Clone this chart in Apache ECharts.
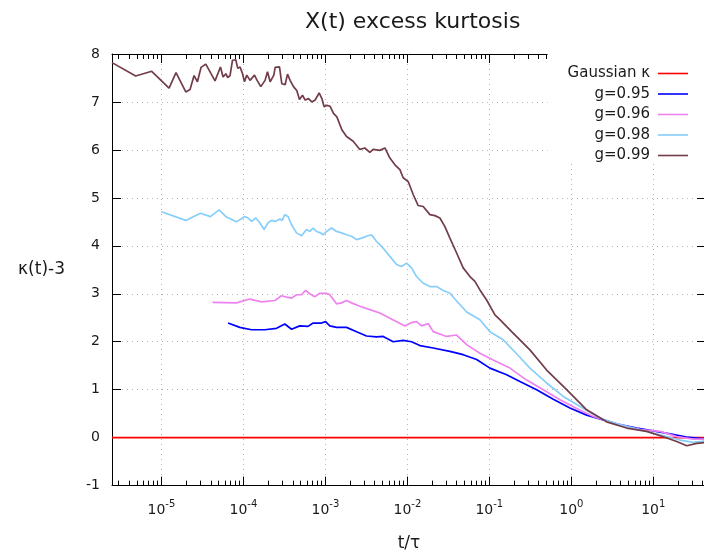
<!DOCTYPE html>
<html><head><meta charset="utf-8">
<script src="https://cdn.jsdelivr.net/npm/echarts@6/dist/echarts.min.js"></script>
<style>html,body{margin:0;padding:0;background:#fff}#c{width:704px;height:558px}</style>
</head><body><div id="c"></div><script>
// x values are log10(t/tau), y values are kappa(t)-3
const xRangeLog = [-5.603, 1.643];
const yRange = [-1, 8];
const seriesNames = ['Gaussian κ', 'g=0.95', 'g=0.96', 'g=0.98', 'g=0.99'];

const gauss_logt = [-5.603, 1.643];
const gauss_kappa = [0, 0];

const g95_logt = [-4.187,-4.044,-3.901,-3.739,-3.596,-3.495,-3.413,-3.312,-3.211,-3.150,-3.047,-2.998,-2.946,-2.864,-2.742,-2.620,-2.498,-2.376,-2.295,-2.173,-2.051,-1.949,-1.847,-1.685,-1.481,-1.319,-1.155,-0.993,-0.789,-0.627,-0.423,-0.220,-0.017,0.187,0.390,0.594,0.798,1.000,1.203,1.408,1.643];
const g95_kappa = [2.39,2.30,2.25,2.25,2.28,2.37,2.26,2.33,2.32,2.39,2.39,2.42,2.33,2.30,2.30,2.21,2.12,2.10,2.11,2.00,2.03,2.00,1.92,1.87,1.80,1.73,1.63,1.45,1.31,1.17,1.00,0.80,0.62,0.47,0.37,0.27,0.20,0.14,0.08,0.01,-0.03];

const g96_logt = [-4.378,-4.085,-3.922,-3.779,-3.617,-3.535,-3.474,-3.413,-3.352,-3.291,-3.242,-3.190,-3.129,-3.068,-2.986,-2.946,-2.864,-2.803,-2.742,-2.681,-2.580,-2.458,-2.336,-2.213,-2.112,-2.030,-1.949,-1.888,-1.827,-1.746,-1.685,-1.521,-1.399,-1.277,-1.115,-0.953,-0.749,-0.545,-0.342,-0.138,0.065,0.268,0.472,0.676,0.878,1.082,1.286,1.488,1.643];
const g96_kappa = [2.82,2.81,2.89,2.83,2.86,2.96,2.93,2.91,2.98,2.98,3.07,3.00,2.94,3.01,3.01,2.98,2.79,2.81,2.86,2.81,2.74,2.67,2.60,2.49,2.40,2.33,2.40,2.42,2.33,2.38,2.21,2.11,2.14,1.94,1.76,1.62,1.45,1.20,1.00,0.79,0.61,0.44,0.33,0.23,0.16,0.13,0.02,-0.03,-0.03];

const g98_logt = [-5.000,-4.703,-4.524,-4.402,-4.297,-4.207,-4.085,-3.983,-3.943,-3.901,-3.849,-3.800,-3.748,-3.699,-3.657,-3.605,-3.556,-3.528,-3.495,-3.455,-3.413,-3.352,-3.291,-3.230,-3.190,-3.150,-3.108,-3.059,-3.028,-2.986,-2.925,-2.864,-2.803,-2.742,-2.681,-2.620,-2.559,-2.498,-2.437,-2.376,-2.295,-2.213,-2.132,-2.071,-2.010,-1.949,-1.888,-1.807,-1.725,-1.643,-1.563,-1.481,-1.420,-1.277,-1.115,-0.993,-0.831,-0.667,-0.505,-0.301,-0.098,0.106,0.350,0.594,0.838,1.082,1.326,1.488,1.643];
const g98_kappa = [4.71,4.53,4.68,4.61,4.75,4.60,4.50,4.61,4.58,4.51,4.58,4.48,4.34,4.48,4.53,4.51,4.56,4.53,4.65,4.61,4.44,4.27,4.21,4.34,4.30,4.37,4.30,4.27,4.23,4.30,4.37,4.30,4.27,4.23,4.20,4.13,4.16,4.20,4.23,4.09,3.95,3.78,3.61,3.57,3.64,3.54,3.36,3.22,3.15,3.15,3.07,3.01,2.89,2.62,2.46,2.21,2.04,1.75,1.45,1.14,0.86,0.65,0.41,0.27,0.16,0.06,-0.05,-0.10,-0.07];

const g99_logt = [-5.603,-5.314,-5.119,-4.907,-4.822,-4.703,-4.651,-4.602,-4.561,-4.517,-4.459,-4.346,-4.280,-4.248,-4.215,-4.191,-4.163,-4.133,-4.093,-4.069,-4.041,-4.011,-3.987,-3.959,-3.919,-3.865,-3.833,-3.788,-3.736,-3.706,-3.674,-3.629,-3.613,-3.560,-3.532,-3.491,-3.462,-3.430,-3.389,-3.349,-3.316,-3.279,-3.247,-3.206,-3.166,-3.125,-3.076,-3.043,-3.015,-2.982,-2.942,-2.901,-2.860,-2.799,-2.742,-2.661,-2.580,-2.519,-2.458,-2.417,-2.336,-2.274,-2.213,-2.152,-2.091,-2.051,-1.990,-1.929,-1.868,-1.807,-1.725,-1.664,-1.603,-1.542,-1.481,-1.399,-1.319,-1.237,-1.176,-1.115,-1.033,-0.932,-0.871,-0.728,-0.505,-0.301,-0.057,0.187,0.431,0.676,0.920,1.122,1.286,1.408,1.530,1.643];
const g99_kappa = [7.82,7.54,7.64,7.29,7.61,7.21,7.26,7.55,7.42,7.72,7.79,7.44,7.73,7.52,7.59,7.51,7.55,7.87,7.88,7.70,7.73,7.59,7.42,7.56,7.45,7.56,7.45,7.32,7.45,7.63,7.42,7.56,7.72,7.73,7.38,7.36,7.58,7.45,7.32,7.24,7.05,7.14,7.04,7.07,7.00,7.04,7.19,7.07,6.90,6.93,6.91,6.76,6.69,6.42,6.28,6.18,6.01,6.04,5.95,6.01,5.99,6.04,5.83,5.69,5.59,5.42,5.34,5.07,4.84,4.82,4.65,4.63,4.58,4.40,4.16,3.85,3.54,3.36,3.26,3.08,2.87,2.56,2.46,2.21,1.83,1.41,1.00,0.58,0.33,0.20,0.13,0.02,-0.08,-0.17,-0.12,-0.10];

const colors = ['#ff0000', '#0000ff', '#ee82ee', '#87cefa', '#723c48'];
const FONT = 'DejaVu Sans';
const TXT = '#1a1a1a';

function pairs(xs, ys) { return xs.map((x, i) => [x, ys[i]]); }
const seriesData = [
  pairs(gauss_logt, gauss_kappa),
  pairs(g95_logt, g95_kappa),
  pairs(g96_logt, g96_kappa),
  pairs(g98_logt, g98_kappa),
  pairs(g99_logt, g99_kappa)
];

// minor log ticks (2..9 x 10^n)
const minorTicks = [];
for (let n = -6; n <= 1; n++) for (let k = 2; k <= 9; k++) {
  const v = n + Math.log10(k);
  if (v > xRangeLog[0] && v < xRangeLog[1]) minorTicks.push(v);
}

const axisLineStyle = { color: '#000', width: 1 };
const gridRect = { left: 112, top: 54, right: -2, bottom: 72.4, outerBoundsMode: 'none', containLabel: false };

const chart = echarts.init(document.getElementById('c'), null, { renderer: 'canvas' });
chart.setOption({
  animation: false,
  backgroundColor: '#fff',
  textStyle: { fontFamily: FONT },
  title: {
    text: 'X(t) excess kurtosis',
    left: 300, top: 6,
    textStyle: { fontFamily: FONT, fontSize: 22, fontWeight: 'normal', color: TXT }
  },
  legend: {
    orient: 'vertical',
    align: 'right',
    right: -2, top: 54,
    padding: [12, 18, 0, 20],
    backgroundColor: '#fff',
    icon: 'path://M0,0H30V1.6H0Z',
    itemWidth: 30, itemHeight: 14, itemGap: 5.5,
    textStyle: { fontFamily: FONT, fontSize: 15, color: TXT, padding: [0, 3, 0, 0] },
    data: seriesNames,
    selectedMode: false
  },
  grid: [Object.assign({}, gridRect), Object.assign({}, gridRect)],
  xAxis: [
    {
      type: 'value', gridIndex: 0, position: 'bottom',
      min: xRangeLog[0], max: xRangeLog[1],
      axisLine: { show: true, onZero: false, lineStyle: axisLineStyle },
      axisTick: { show: true, inside: true, length: 9, lineStyle: axisLineStyle },
      axisLabel: {
        show: true, margin: 14, showMinLabel: false, showMaxLabel: false,
        formatter: v => (Math.abs(v - Math.round(v)) < 1e-9) ? '{b|10}{s|' + Math.round(v) + '}' : '',
        rich: {
          b: { fontFamily: FONT, fontSize: 14, color: TXT, lineHeight: 18, verticalAlign: 'bottom' },
          s: { fontFamily: FONT, fontSize: 10, color: TXT, lineHeight: 18, verticalAlign: 'top' }
        }
      },
      splitLine: { show: true, lineStyle: { color: '#b4b4b4', width: 1, type: [1, 4] } },
      name: 't/τ', nameLocation: 'middle', nameGap: 49,
      nameTextStyle: { fontFamily: FONT, fontSize: 17, color: TXT }
    },
    {
      type: 'value', gridIndex: 0, position: 'top',
      min: xRangeLog[0], max: xRangeLog[1],
      axisLine: { show: true, onZero: false, lineStyle: axisLineStyle },
      axisTick: { show: true, inside: true, length: 9, lineStyle: axisLineStyle },
      axisLabel: { show: false }, splitLine: { show: false }
    },
    {
      type: 'value', gridIndex: 1, position: 'bottom',
      min: xRangeLog[0], max: xRangeLog[1],
      axisLine: { show: false, onZero: false },
      axisTick: { show: true, inside: true, length: 5, customValues: minorTicks, lineStyle: axisLineStyle },
      axisLabel: { show: false }, splitLine: { show: false }
    },
    {
      type: 'value', gridIndex: 1, position: 'top',
      min: xRangeLog[0], max: xRangeLog[1],
      axisLine: { show: false, onZero: false },
      axisTick: { show: true, inside: true, length: 5, customValues: minorTicks, lineStyle: axisLineStyle },
      axisLabel: { show: false }, splitLine: { show: false }
    }
  ],
  yAxis: [
    {
      type: 'value', gridIndex: 0, position: 'left',
      min: yRange[0], max: yRange[1], interval: 1,
      axisLine: { show: true, onZero: false, lineStyle: axisLineStyle },
      axisTick: { show: true, inside: true, length: 9, lineStyle: axisLineStyle },
      axisLabel: { fontFamily: FONT, fontSize: 14, color: TXT, margin: 12 },
      splitLine: { show: true, lineStyle: { color: '#b4b4b4', width: 1, type: [1, 4] } },
      name: 'κ(t)-3', nameLocation: 'middle', nameRotate: 0, nameGap: 47,
      nameTextStyle: { fontFamily: FONT, fontSize: 17, color: TXT }
    },
    {
      type: 'value', gridIndex: 0, position: 'right',
      min: yRange[0], max: yRange[1], interval: 1,
      axisLine: { show: true, onZero: false, lineStyle: axisLineStyle },
      axisTick: { show: true, inside: true, length: 9, lineStyle: axisLineStyle },
      axisLabel: { show: false }, splitLine: { show: false }
    },
    {
      type: 'value', gridIndex: 1, show: false,
      min: yRange[0], max: yRange[1],
      axisLine: { show: false, onZero: false }, axisTick: { show: false },
      axisLabel: { show: false }, splitLine: { show: false }
    }
  ],
  series: seriesNames.map((name, i) => ({
    name: name,
    type: 'line',
    xAxisIndex: 0, yAxisIndex: 0,
    data: seriesData[i],
    symbol: 'none',
    smooth: false,
    clip: true,
    silent: true,
    color: colors[i],
    lineStyle: { color: colors[i], width: 1.7 },
    emphasis: { disabled: true }
  }))
});
</script></body></html>
